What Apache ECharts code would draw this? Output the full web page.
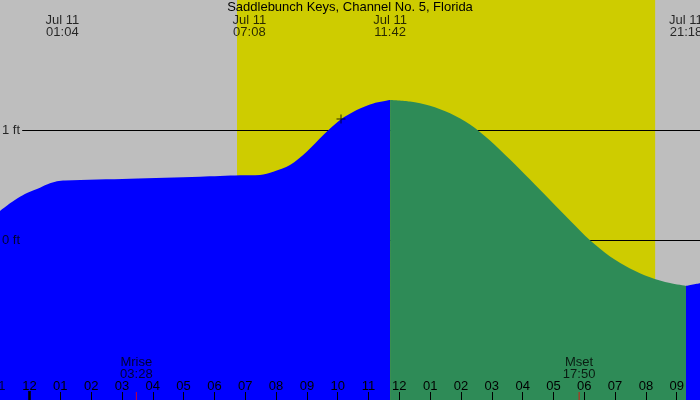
<!DOCTYPE html>
<html>
<head>
<meta charset="utf-8">
<script src="https://cdn.jsdelivr.net/npm/echarts@6/dist/echarts.min.js"></script>
<style>
  html, body {margin: 0; padding: 0; background: #bebebe;}
  #chart {width: 700px; height: 400px;}
</style>
</head>
<body>
<div id="chart"></div>
<script>
const stationName = 'Saddlebunch Keys, Channel No. 5, Florida';

// tide height (ft) vs hours since midnight Jul 11
const risingEarly = [
  [-0.957, 0.264], [-0.633, 0.334], [-0.308, 0.394], [0.016, 0.439], [0.341, 0.476],
  [0.665, 0.515], [0.892, 0.535], [1.152, 0.541], [3.261, 0.557], [5.532, 0.575],
  [6.830, 0.588], [7.479, 0.592], [7.910, 0.621], [8.452, 0.682], [8.994, 0.803],
  [9.533, 0.955], [10.075, 1.091], [10.617, 1.182], [11.155, 1.242], [11.7, 1.273]
];
const falling = [
  [11.7, 1.273], [12.346, 1.259], [12.995, 1.220], [13.644, 1.152], [14.293, 1.050],
  [14.942, 0.905], [15.591, 0.732], [16.240, 0.550], [16.889, 0.364], [17.538, 0.178],
  [18.187, -0.003], [18.836, -0.150], [19.484, -0.258], [20.133, -0.338], [20.782, -0.392],
  [21.3, -0.418]
];
const risingLate = [[21.3, -0.418], [21.755, -0.394]];

// tide events along the top
const eventHours = [1.067, 7.133, 11.7, 21.3];
const eventLabels = ['Jul 11\n01:04', 'Jul 11\n07:08', 'Jul 11\n11:42', 'Jul 11\n21:18'];

// daylight
const sunrise = 6.733;
const sunset = 20.3;

// moon
const moonHours = [3.467, 17.833];
const moonLabels = ['Mrise\n03:28', 'Mset\n17:50'];

// hour ticks (the 11 pm one sits just off the left edge)
const hourTicks = [0, 1, 2, 3, 4, 5, 6, 7, 8, 9, 10, 11, 12, 13, 14, 15, 16, 17, 18, 19, 20, 21];
const hourLabels = ['12', '01', '02', '03', '04', '05', '06', '07', '08', '09', '10', '11',
  '12', '01', '02', '03', '04', '05', '06', '07', '08', '09'];
const edgeHour = [[-1, '11']];
const midnight = [0];

// reference levels
const levels = [1, 0];
const levelLabels = ['1 ft', '0 ft'];

const nowMark = [[10.107, 1.1]];

const xMin = -0.957, xMax = 21.755;
const yMin = -1.4545, yMax = 2.1818;

const font = 'Liberation Sans, Arial, sans-serif';
const fontSize = 13;
const chart = echarts.init(document.getElementById('chart'));

const areaSeries = (name, data, color) => ({
  name, type: 'line', data, z: 3,
  smooth: 0.3,
  showSymbol: false, silent: true,
  lineStyle: {width: 0},
  areaStyle: {color, opacity: 1, origin: 'start'}
});

chart.setOption({
  animation: false,
  backgroundColor: '#bebebe',
  title: {
    text: stationName, left: 'center', top: 1, padding: 0,
    textStyle: {fontFamily: font, fontSize, fontWeight: 'normal', color: '#000'}
  },
  grid: {left: 0, right: 0, top: 0, bottom: 0},
  xAxis: {
    type: 'value', min: xMin, max: xMax, z: 10,
    splitLine: {show: false},
    axisLine: {show: false, onZero: false},
    axisTick: {show: true, inside: true, length: 8, customValues: hourTicks,
      lineStyle: {color: '#000', width: 1}},
    axisLabel: {show: true, inside: true, margin: 7, customValues: hourTicks,
      fontFamily: font, fontSize, color: '#000',
      formatter: v => hourLabels[hourTicks.indexOf(Math.round(v))]}
  },
  yAxis: {
    type: 'value', min: yMin, max: yMax, show: false, splitLine: {show: false}
  },
  series: [
    {
      name: 'sky', type: 'line', data: [], z: 1, silent: true,
      markArea: {
        silent: true, z: 1,
        itemStyle: {color: '#cecc00', opacity: 1},
        data: [[{xAxis: sunrise}, {xAxis: sunset}]]
      },
      markLine: {
        silent: true, symbol: 'none', z: 2,
        lineStyle: {color: '#000', width: 1, type: 'solid'},
        label: {show: false},
        data: levels.map(l => [{coord: [xMin + 0.72, l]}, {coord: [xMax, l]}])
      }
    },
    areaSeries('flood1', risingEarly, '#0000ff'),
    areaSeries('ebb', falling, '#2e8b57'),
    areaSeries('flood2', risingLate, '#0000ff'),
    {
      name: 'levels', type: 'scatter', z: 5, silent: true, symbolSize: 0,
      data: levels.map((l, i) => [xMin, l, levelLabels[i]]),
      label: {show: true, position: 'right', distance: 2, formatter: p => p.data[2],
        fontFamily: font, fontSize, color: '#000'}
    },
    {
      name: 'events', type: 'scatter', z: 5, silent: true, symbolSize: 0,
      data: eventHours.map((h, i) => [h, yMax, eventLabels[i]]),
      label: {show: true, position: 'bottom', distance: 14, lineHeight: 12,
        align: 'center', formatter: p => p.data[2],
        fontFamily: font, fontSize, color: '#000'}
    },
    {
      name: 'moon', type: 'scatter', z: 5, silent: true,
      symbol: 'rect', symbolSize: [1, 8], symbolOffset: [0, -4],
      itemStyle: {color: '#ff0000'},
      data: moonHours.map((h, i) => [h, yMin, moonLabels[i]]),
      label: {show: true, position: 'top', distance: 12, lineHeight: 12,
        align: 'center', formatter: p => p.data[2],
        fontFamily: font, fontSize, color: '#000'}
    },
    {
      name: 'edge hour', type: 'scatter', z: 11, silent: true, clip: false,
      symbol: 'rect', symbolSize: [1, 8], symbolOffset: [0, -4],
      itemStyle: {color: '#000'},
      data: edgeHour.map(d => [d[0], yMin, d[1]]),
      label: {show: true, position: 'top', distance: -1, formatter: p => p.data[2],
        fontFamily: font, fontSize, color: '#000'}
    },
    {
      name: 'midnight', type: 'scatter', z: 11, silent: true,
      symbol: 'rect', symbolSize: [3, 9], symbolOffset: [0, -4.5],
      itemStyle: {color: '#000'},
      data: midnight.map(h => [h, yMin])
    },
    {
      name: 'now', type: 'scatter', z: 5, silent: true,
      symbol: 'path://M4,0h1v9h-1zM0,4h9v1h-9z', symbolSize: 9,
      itemStyle: {color: '#000'},
      data: nowMark
    }
  ]
});
</script>
</body>
</html>
